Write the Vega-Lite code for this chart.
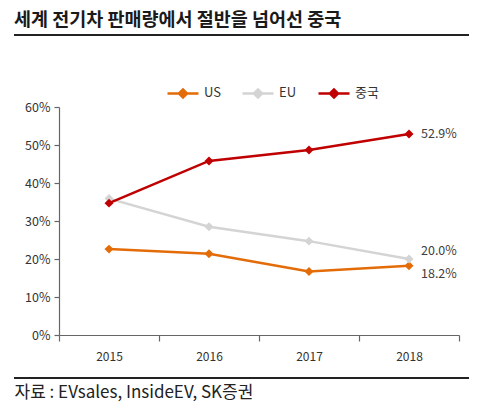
{
  "$schema": "https://vega.github.io/schema/vega-lite/v6.json",
  "width": 400,
  "height": 228,
  "autosize": {"type": "none"},
  "padding": {"left": 59, "top": 107, "right": 21, "bottom": 70},
  "background": "white",
  "config": {
    "view": {"stroke": null},
    "font": "Noto Sans CJK KR",
    "text": {"font": "Noto Sans CJK KR"},
    "axis": {"labelOverlap": false}
  },
  "title": {
    "text": "세계 전기차 판매량에서 절반을 넘어선 중국",
    "anchor": "start",
    "frame": "group",
    "dx": -45,
    "offset": 5,
    "fontSize": 18.5,
    "fontWeight": "bold",
    "color": "#1a1a1a",
    "font": "Noto Sans CJK KR"
  },
  "datasets": {
    "share": [
      {"year": "2015", "region": "US", "share": 0.226, "label": ""},
      {"year": "2016", "region": "US", "share": 0.214, "label": ""},
      {"year": "2017", "region": "US", "share": 0.167, "label": ""},
      {"year": "2018", "region": "US", "share": 0.182, "label": "18.2%"},
      {"year": "2015", "region": "EU", "share": 0.359, "label": ""},
      {"year": "2016", "region": "EU", "share": 0.285, "label": ""},
      {"year": "2017", "region": "EU", "share": 0.247, "label": ""},
      {"year": "2018", "region": "EU", "share": 0.200, "label": "20.0%"},
      {"year": "2015", "region": "중국", "share": 0.347, "label": ""},
      {"year": "2016", "region": "중국", "share": 0.458, "label": ""},
      {"year": "2017", "region": "중국", "share": 0.487, "label": ""},
      {"year": "2018", "region": "중국", "share": 0.529, "label": "52.9%"}
    ]
  },
  "encoding": {
    "x": {
      "field": "year", "type": "ordinal", "bandPosition": 0.5,
      "scale": {"type": "band", "paddingInner": 0, "paddingOuter": 0},
      "axis": {
        "title": "자료 : EVsales, InsideEV, SK증권",
        "titleX": -45, "titleY": 62, "titleAlign": "left", "titleAnchor": "start",
        "titleBaseline": "alphabetic", "titleFontSize": 17, "titleFontWeight": "normal",
        "titleColor": "#222", "titleFont": "Noto Sans CJK KR",
        "labelAngle": 0, "labelFontSize": 12, "labelColor": "#333", "labelPadding": 10,
        "tickBand": "extent", "tickSize": 6, "tickColor": "#666", "domainColor": "#666",
        "domainWidth": 1.2, "tickWidth": 1.2
      }
    },
    "y": {
      "field": "share", "type": "quantitative",
      "scale": {"domain": [0, 0.6], "nice": false},
      "axis": {
        "title": null, "format": ".0%", "values": [0, 0.1, 0.2, 0.3, 0.4, 0.5, 0.6],
        "grid": false, "labelFontSize": 12.5, "labelColor": "#333", "labelPadding": 4,
        "labelOverlap": false,
        "tickSize": 5, "tickColor": "#666", "domainColor": "#666",
        "domainWidth": 1.2, "tickWidth": 1.2
      }
    }
  },
  "layer": [
    {
      "data": {"name": "share"},
      "mark": {"type": "line", "strokeWidth": 2.5},
      "encoding": {
        "color": {
          "field": "region", "type": "nominal",
          "scale": {"domain": ["US", "EU", "중국"], "range": ["#E36C09", "#D4D4D4", "#C00000"]},
          "legend": {
            "title": null, "orient": "none", "direction": "horizontal",
            "legendX": 107, "legendY": -31,
            "symbolType": "M-1,0L1,0M-0.26,0L0,-0.26L0.26,0L0,0.26Z",
            "symbolSize": 961, "symbolStrokeWidth": 2.5,
            "labelFontSize": 13, "labelColor": "#333", "labelOffset": 4,
            "columnPadding": 16
          }
        }
      }
    },
    {
      "data": {"name": "share"},
      "mark": {"type": "point", "shape": "diamond", "filled": true, "size": 80, "opacity": 1},
      "encoding": {
        "color": {"field": "region", "type": "nominal"}
      }
    },
    {
      "data": {"name": "share"},
      "transform": [{"filter": "datum.label != '' && datum.region == '중국'"}],
      "mark": {"type": "text", "align": "left", "dx": 12, "fontSize": 12.5, "color": "#404040"},
      "encoding": {"text": {"field": "label"}}
    },
    {
      "data": {"name": "share"},
      "transform": [{"filter": "datum.label != '' && datum.region == 'EU'"}],
      "mark": {"type": "text", "align": "left", "dx": 12, "dy": -8, "fontSize": 12.5, "color": "#404040"},
      "encoding": {"text": {"field": "label"}}
    },
    {
      "data": {"name": "share"},
      "transform": [{"filter": "datum.label != '' && datum.region == 'US'"}],
      "mark": {"type": "text", "align": "left", "dx": 12, "dy": 8, "fontSize": 12.5, "color": "#404040"},
      "encoding": {"text": {"field": "label"}}
    },
    {
      "data": {"values": [{}]},
      "mark": {"type": "rule", "stroke": "#222", "strokeWidth": 2},
      "encoding": {"x": {"value": -45}, "x2": {"value": 410}, "y": {"value": -72}}
    },
    {
      "data": {"values": [{}]},
      "mark": {"type": "rule", "stroke": "#222", "strokeWidth": 2},
      "encoding": {"x": {"value": -45}, "x2": {"value": 410}, "y": {"value": 271}}
    }
  ]
}
